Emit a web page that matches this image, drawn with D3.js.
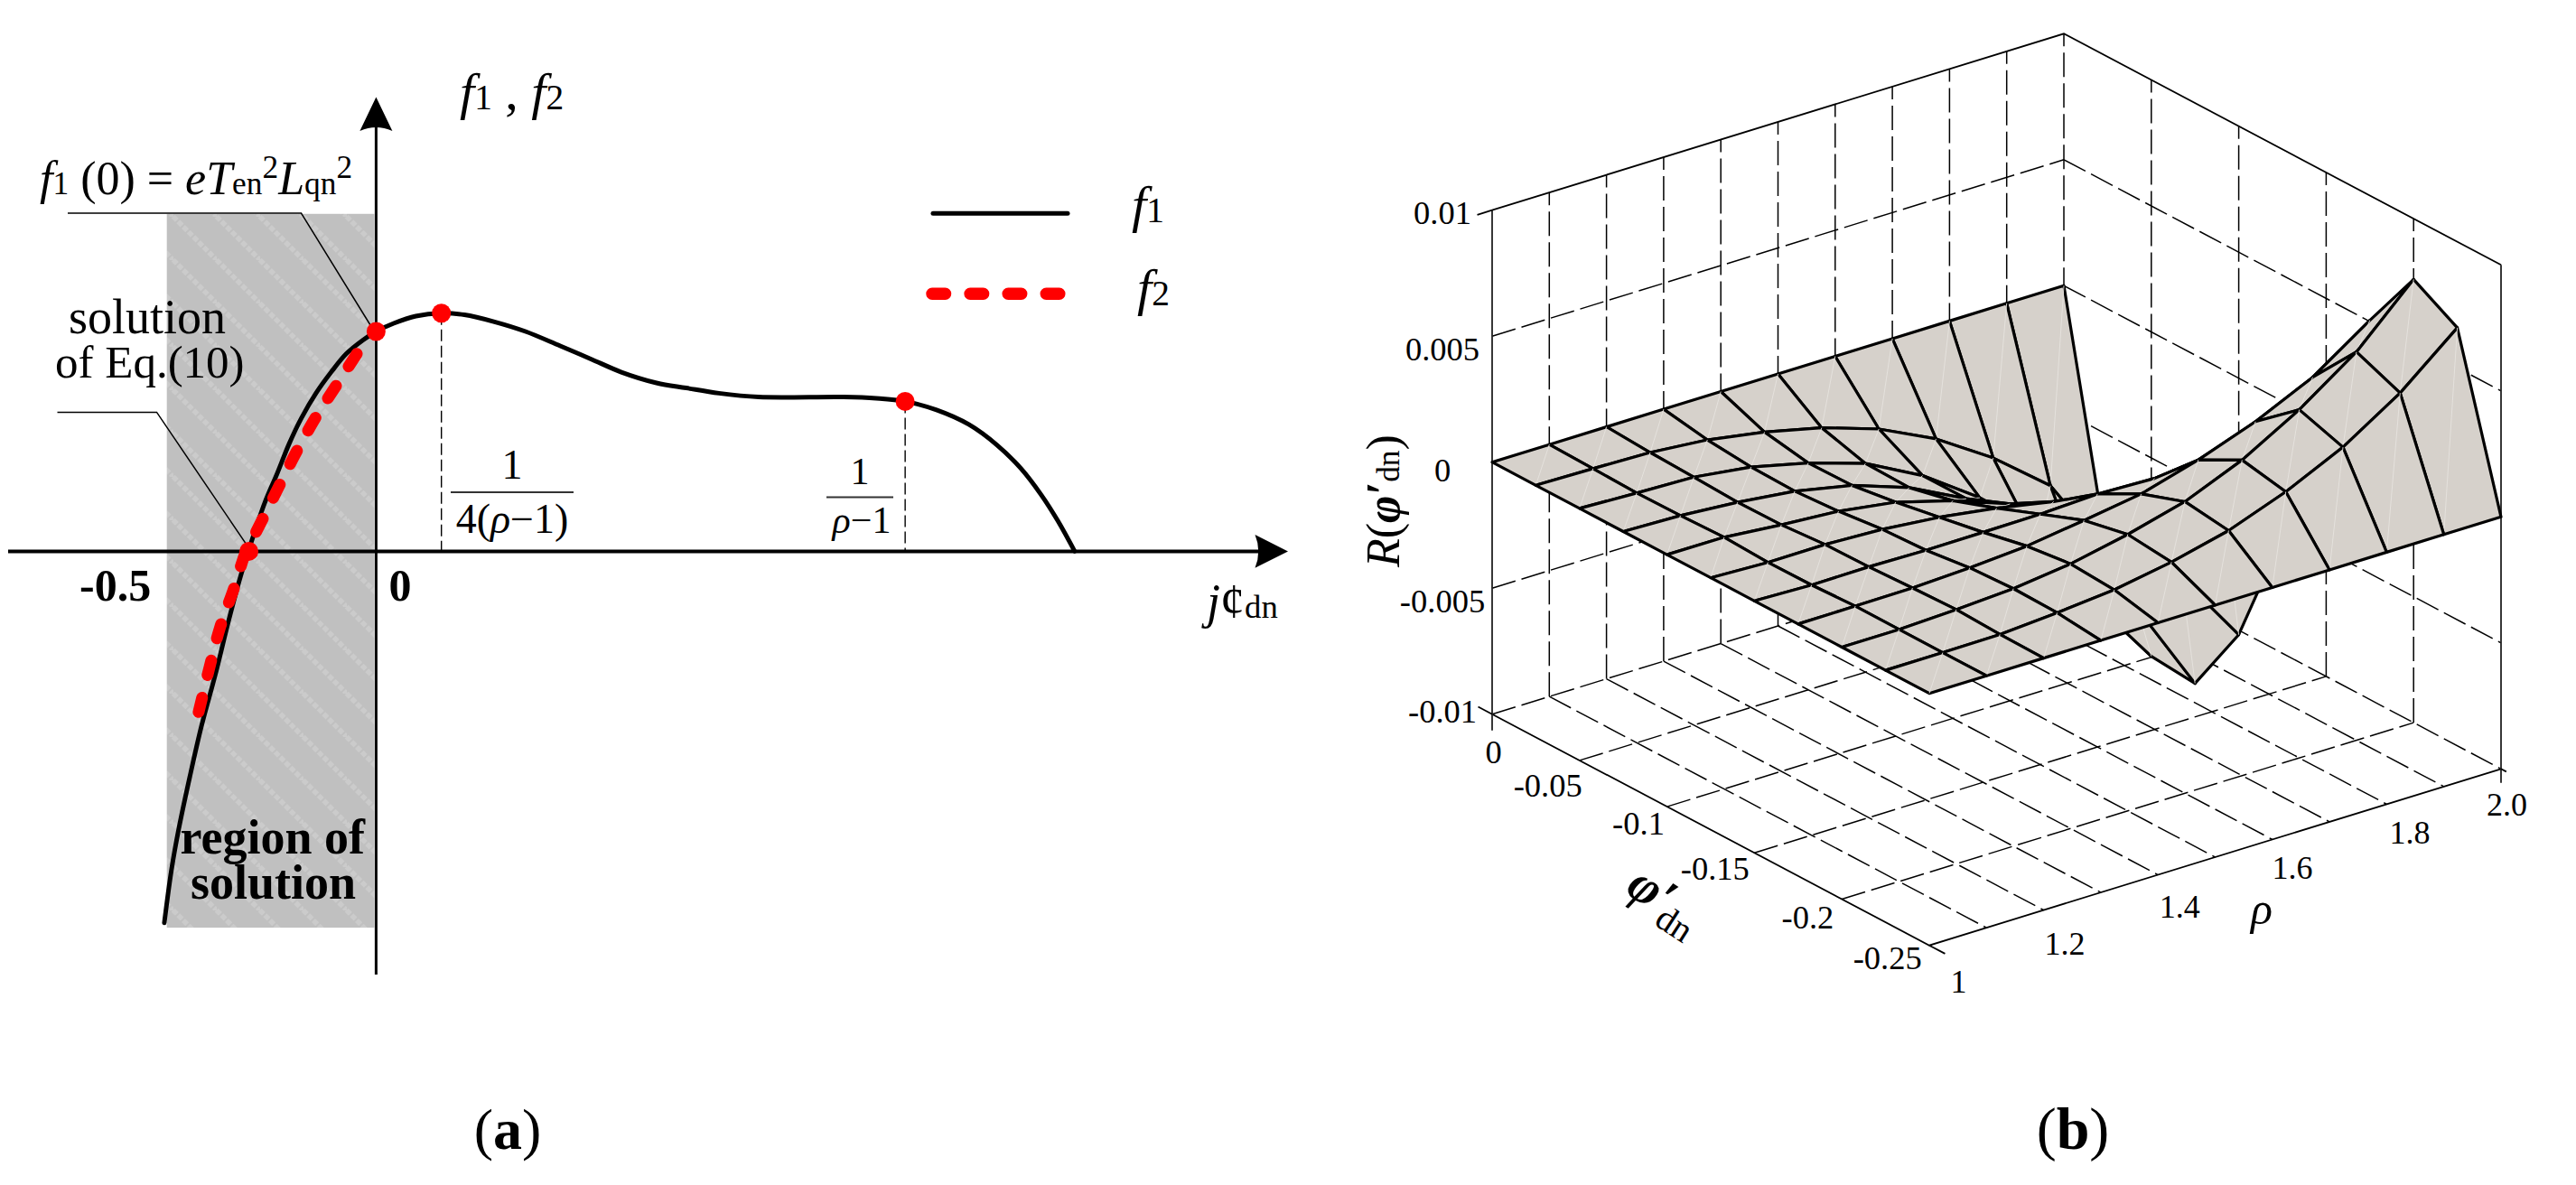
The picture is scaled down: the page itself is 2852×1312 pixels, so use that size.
<!DOCTYPE html>
<html>
<head>
<meta charset="utf-8">
<script src="https://cdn.jsdelivr.net/npm/d3@7"></script>
<style>
  html, body { margin: 0; padding: 0; background: #fff; }
  text { font-family: "Liberation Serif", serif; fill: #000; }
</style>
</head>
<body>
<svg id="chart" width="2852" height="1312"></svg>
<script>
// ---------- panel (a) values ----------
const f1X = [-0.506, -0.489, -0.471, -0.445, -0.417, -0.384, -0.352, -0.323, -0.298, -0.266, -0.237, -0.208, -0.179, -0.143, -0.107, -0.071, -0.032, 0,
  0.042, 0.095, 0.156, 0.211, 0.283, 0.357, 0.44, 0.513, 0.586, 0.67, 0.741, 0.819, 0.914, 1.117, 1.195, 1.264,
  1.339, 1.416, 1.483, 1.541, 1.589, 1.628, 1.669];
const f1Y = [-1.69, -1.45, -1.258, -1.025, -0.793, -0.56, -0.313, -0.108, 0.043, 0.221, 0.351, 0.488, 0.604, 0.721, 0.816, 0.899, 0.96, 1,
  1.037, 1.07, 1.083, 1.076, 1.044, 1, 0.934, 0.875, 0.815, 0.766, 0.743, 0.719, 0.702, 0.702, 0.696, 0.682,
  0.643, 0.577, 0.484, 0.376, 0.257, 0.141, 0];
const f2X = [-0.424, -0.396, -0.372, -0.341, -0.309, -0.287, -0.231, -0.19, -0.145, -0.096, -0.046];
const f2Y = [-0.731, -0.512, -0.341, -0.176, 0.009, 0.087, 0.3, 0.454, 0.607, 0.752, 0.899];
const markerX = [-0.304, 0, 0.156, 1.264];
const markerY = [0, 1, 1.083, 0.682];
const regionX = [-0.5, 0];
const regionY = [-1.712, 1.535];

// ---------- panel (b) values ----------
const rhoTicks = [1, 1.1, 1.2, 1.3, 1.4, 1.5, 1.6, 1.7, 1.8, 1.9, 2];
const rhoLabels = ["1", "", "1.2", "", "1.4", "", "1.6", "", "1.8", "", "2.0"];
const phiTicks = [0, -0.05, -0.1, -0.15, -0.2, -0.25];
const phiLabels = ["0", "-0.05", "-0.1", "-0.15", "-0.2", "-0.25"];
const rTicks = [-0.01, -0.005, 0, 0.005, 0.01];
const rLabels = ["-0.01", "-0.005", "0", "0.005", "0.01"];
const meshPhi = [0, -0.025, -0.05, -0.075, -0.1, -0.125, -0.15, -0.175, -0.2, -0.225, -0.25];
const meshRho = rhoTicks;
// one row per meshPhi value, one column per meshRho value
const meshR = [
  [0, 0, 0, 0, 0, 0, 0, 0, 0, 0, 0],
  [0, -0.00004, -0.0001, -0.0003, -0.00069, -0.00122, -0.00197, -0.00306, -0.00452, -0.00632, -0.00971],
  [0, -0.00009, -0.00016, -0.00046, -0.001, -0.00172, -0.0029, -0.00448, -0.00699, -0.01004, -0.01287],
  [0, -0.00007, -0.00024, -0.0005, -0.00097, -0.00176, -0.0029, -0.00448, -0.00681, -0.00939, -0.01303],
  [0, -0.00001, -0.00022, -0.00038, -0.00072, -0.00136, -0.00219, -0.00358, -0.0052, -0.00724, -0.01018],
  [0, -0.00009, -0.00008, -0.00018, -0.0004, -0.00074, -0.00118, -0.00197, -0.00305, -0.00412, -0.00538],
  [0, -0.00007, -0.00005, -0.00009, -0.00008, -0.00006, 0.00004, -0.00004, 0.00021, 0.00094, 0.00194],
  [0, 0.00001, 0.00003, 0.00013, 0.00029, 0.00061, 0.00096, 0.00161, 0.00243, 0.00349, 0.00505],
  [0, 0, 0.00009, 0.00022, 0.0005, 0.00097, 0.00157, 0.00252, 0.00382, 0.00541, 0.00759],
  [0, 0, 0.00002, 0.00018, 0.00039, 0.00079, 0.00134, 0.00218, 0.00325, 0.0047, 0.00659],
  [0, 0, 0, 0, 0, 0, 0, 0, 0, 0, 0]
];

const svg = d3.select("#chart");

// write a line of text out of [string, style] parts
function richText(parent, x, y, size, parts, anchor) {
  const t = parent.append("text").attr("x", x).attr("y", y)
    .attr("font-size", size).attr("text-anchor", anchor || "start");
  parts.forEach(p => {
    const s = t.append("tspan").text(p[0]);
    if (p[1] === "i") s.attr("font-style", "italic");
    if (p[1] === "iback") s.attr("font-style", "italic").attr("dy", size * 0.36);
    if (p[1] === "sub") s.attr("font-size", size * 0.68);
    if (p[1] === "sup") s.attr("font-size", size * 0.68).attr("dy", -size * 0.36);
    if (p[1] === "ib") s.attr("font-style", "italic").attr("font-weight", "bold");
    if (p[1] === "b") s.attr("font-weight", "bold");
  });
  return t;
}

// ---------- panel (a) ----------
const ax = d3.scaleLinear().domain([-0.5, 0]).range([184.7, 416.4]);
const ay = d3.scaleLinear().domain([0, 1]).range([610.4, 367]);
const a = svg.append("g");

const hatch = svg.append("defs").append("pattern").attr("id", "hatch")
  .attr("width", 48).attr("height", 48).attr("patternUnits", "userSpaceOnUse");
hatch.append("rect").attr("width", 48).attr("height", 48).attr("fill", "#c0c0c0");
hatch.append("path").attr("d", "M-6,-6L54,54M-6,42L6,54M42,-6L54,6")
  .attr("stroke", "#cbcbcb").attr("stroke-width", 5.5).attr("stroke-dasharray", "6 2");

a.append("rect")
  .attr("x", ax(regionX[0])).attr("y", ay(regionY[1]))
  .attr("width", ax(regionX[1]) - 2 - ax(regionX[0]))
  .attr("height", ay(regionY[0]) - ay(regionY[1]))
  .attr("fill", "url(#hatch)");

// axes
a.append("line").attr("x1", 9).attr("x2", 1400).attr("y1", ay(0)).attr("y2", ay(0))
  .attr("stroke", "#000").attr("stroke-width", 4);
a.append("line").attr("x1", ax(0)).attr("x2", ax(0)).attr("y1", 135).attr("y2", 1079)
  .attr("stroke", "#000").attr("stroke-width", 3);
a.append("path").attr("d", `M${ax(0)},107.5L${ax(0) + 18},145Q${ax(0)},137 ${ax(0) - 18},145Z`);
a.append("path").attr("d", `M1426,${ay(0)}L1389.5,${ay(0) - 18.4}Q1397,${ay(0)} 1389.5,${ay(0) + 18.4}Z`);

// guides and leader lines
[markerX[2], markerX[3]].forEach((v, i) => {
  a.append("line").attr("x1", ax(v)).attr("x2", ax(v))
    .attr("y1", ay(markerY[i + 2])).attr("y2", ay(0))
    .attr("stroke", "#000").attr("stroke-width", 1.4).attr("stroke-dasharray", "13 5");
});
a.append("polyline").attr("points", `75,236 333.5,236 ${ax(0) - 2},${ay(1)}`)
  .attr("fill", "none").attr("stroke", "#000").attr("stroke-width", 1.5);
a.append("polyline").attr("points", `63.5,456.4 173.5,456.4 ${ax(markerX[0]) - 3},${ay(0) - 8}`)
  .attr("fill", "none").attr("stroke", "#000").attr("stroke-width", 1.5);

// curves
const curveLine = d3.line().x(d => ax(d[0])).y(d => ay(d[1])).curve(d3.curveCatmullRom);
a.append("path").attr("d", curveLine(d3.zip(f1X, f1Y)))
  .attr("fill", "none").attr("stroke", "#000").attr("stroke-width", 5).attr("stroke-linecap", "round");
a.append("path").attr("d", curveLine(d3.zip(f2X, f2Y)))
  .attr("fill", "none").attr("stroke", "#ff0000").attr("stroke-width", 13)
  .attr("stroke-linecap", "round").attr("stroke-dasharray", "16.5 25.5");
a.selectAll("circle.marker").data(d3.zip(markerX, markerY)).enter().append("circle")
  .attr("class", "marker").attr("cx", d => ax(d[0])).attr("cy", d => ay(d[1])).attr("r", 10.5)
  .attr("fill", "#ff0000");

// legend
a.append("line").attr("x1", 1033).attr("x2", 1182).attr("y1", 236.3).attr("y2", 236.3)
  .attr("stroke", "#000").attr("stroke-width", 5).attr("stroke-linecap", "round");
a.append("line").attr("x1", 1032).attr("x2", 1174).attr("y1", 325.3).attr("y2", 325.3)
  .attr("stroke", "#ff0000").attr("stroke-width", 13.5).attr("stroke-linecap", "round")
  .attr("stroke-dasharray", "14.5 27.6");
richText(a, 1253, 245.7, 58, [["f", "i"], ["1", "sub"]]);
richText(a, 1259, 337.6, 58, [["f", "i"], ["2", "sub"]]);

// labels
richText(a, 509, 121.4, 58, [["f", "i"], ["1", "sub"], [" , "], ["f", "i"], ["2", "sub"]]);
richText(a, 44, 215.4, 52, [["f", "i"], ["1", "sub"], [" (0) = "], ["eT", "i"], ["en", "sub"], ["2", "sup"],
  ["L", "iback"], ["qn", "sub"], ["2", "sup"]]);
a.append("text").attr("x", 76).attr("y", 369).attr("font-size", 54).text("solution");
a.append("text").attr("x", 61).attr("y", 418).attr("font-size", 51).text("of Eq.(10)");
a.append("text").attr("x", 88).attr("y", 664.6).attr("font-size", 50).attr("font-weight", "bold").text("-0.5");
a.append("text").attr("x", 430.4).attr("y", 664.6).attr("font-size", 50).attr("font-weight", "bold").text("0");
a.append("text").attr("x", 301.7).attr("y", 945).attr("font-size", 54).attr("font-weight", "bold")
  .attr("text-anchor", "middle").text("region of");
a.append("text").attr("x", 302.5).attr("y", 995).attr("font-size", 54).attr("font-weight", "bold")
  .attr("text-anchor", "middle").text("solution");
richText(a, 1336, 684, 54, [["j", "i"], ["¢"], ["dn", "sub"]]);

// fractions
a.append("text").attr("x", 567).attr("y", 529.6).attr("font-size", 46).attr("text-anchor", "middle").text("1");
a.append("line").attr("x1", 499).attr("x2", 635).attr("y1", 545).attr("y2", 545).attr("stroke", "#333").attr("stroke-width", 2);
richText(a, 567, 590, 46, [["4("], ["ρ", "i"], ["−1)"]], "middle");
a.append("text").attr("x", 952).attr("y", 536).attr("font-size", 42).attr("text-anchor", "middle").text("1");
a.append("line").attr("x1", 915).attr("x2", 989).attr("y1", 550.6).attr("y2", 550.6).attr("stroke", "#333").attr("stroke-width", 2);
richText(a, 954, 590, 42, [["ρ", "i"], ["−1"]], "middle");

richText(svg, 562, 1271.7, 64, [["("], ["a", "b"], [")"]], "middle");
richText(svg, 2295, 1271.7, 66, [["("], ["b", "b"], [")"]], "middle");

// ---------- panel (b): oblique projection built from linear scales ----------
const originX = 1652, originY = 790.7;
const phiToX = d3.scaleLinear().domain([0, -0.25]).range([0, 484]);
const phiToY = d3.scaleLinear().domain([0, -0.25]).range([0, 256]);
const rhoToX = d3.scaleLinear().domain([1, 2]).range([0, 633]);
const rhoToY = d3.scaleLinear().domain([1, 2]).range([0, -195.4]);
const rToY = d3.scaleLinear().domain([-0.01, 0.01]).range([0, -558]);

const project = (phi, rho, r) => [
  originX + phiToX(phi) + rhoToX(rho),
  originY + phiToY(phi) + rhoToY(rho) + rToY(r)
];
const pts = list => list.map(p => project(p[0], p[1], p[2]).join(",")).join(" ");

const b = svg.append("g");
const rMin = -0.01, rMax = 0.01, phiEnd = -0.25, rhoEnd = 2;

function gridLine(list, solid) {
  const l = b.append("polyline").attr("points", pts(list)).attr("fill", "none")
    .attr("stroke", "#000").attr("stroke-width", solid ? 1.8 : 1.5);
  if (!solid) l.attr("stroke-dasharray", "27 7");
  return l;
}

// floor
rhoTicks.slice(1, -1).forEach(v => gridLine([[0, v, rMin], [phiEnd, v, rMin]]));
phiTicks.slice(1, -1).forEach(v => gridLine([[v, 1, rMin], [v, rhoEnd, rMin]]));
gridLine([[0, rhoEnd, rMin], [phiEnd, rhoEnd, rMin]]);
gridLine([[0, 1, rMin], [0, rhoEnd, rMin]]);
// back walls
rhoTicks.slice(1).forEach(v => gridLine([[0, v, rMin], [0, v, rMax]]));
phiTicks.slice(1, -1).forEach(v => gridLine([[v, rhoEnd, rMin], [v, rhoEnd, rMax]]));
rTicks.slice(1, -1).forEach(v => {
  gridLine([[0, 1, v], [0, rhoEnd, v]]);
  gridLine([[0, rhoEnd, v], [phiEnd, rhoEnd, v]]);
});
// frame
gridLine([[0, 1, rMax], [0, rhoEnd, rMax], [phiEnd, rhoEnd, rMax]], true);
gridLine([[0, 1, rMin], [phiEnd, 1, rMin], [phiEnd, rhoEnd, rMin]], true);
gridLine([[0, 1, rMin - 0.00065], [0, 1, rMax]], true).attr("stroke", "#222");
gridLine([[phiEnd, rhoEnd, rMin - 0.00055], [phiEnd, rhoEnd, rMax]], true).attr("stroke", "#222");
// small tick stubs at the frame corners
gridLine([[0, 0.974, rMax], [0, 1, rMax]], true);
gridLine([[0.008, 1, rMin], [0, 1, rMin]], true);
gridLine([[phiEnd, 1, rMin], [phiEnd - 0.009, 1, rMin]], true);
gridLine([[phiEnd, rhoEnd, rMin], [phiEnd - 0.003, rhoEnd, rMin]], true);

// surface, cells painted from the back corner to the front corner
const cells = [];
for (let i = 0; i < meshPhi.length - 1; i++) {
  for (let j = 0; j < meshRho.length - 1; j++) cells.push([i, j]);
}
cells.sort((p, q) => (p[0] - p[1]) - (q[0] - q[1]));
const node = (i, j) => [meshPhi[i], meshRho[j], meshR[i][j]];
const surface = b.append("g");
cells.forEach(c => {
  const i = c[0], j = c[1];
  surface.append("polygon")
    .attr("points", pts([node(i, j), node(i + 1, j), node(i + 1, j + 1), node(i, j + 1)]))
    .attr("fill", "#d6d1cb").attr("stroke", "#000").attr("stroke-width", 3.2)
    .attr("stroke-linejoin", "round");
  surface.append("polyline")
    .attr("points", pts([node(i + 1, j), node(i, j + 1)]))
    .attr("fill", "none").attr("stroke", "#e6e3df").attr("stroke-width", 0.9);
});

// tick labels
const rLabelX = [1597, 1597, 1597, 1597, 1597];
const rLabelBase = [800, 678.3, 532.7, 399.3, 248.3];
rLabels.forEach((t, i) => b.append("text").attr("x", rLabelX[i]).attr("y", rLabelBase[i])
  .attr("font-size", 36.5).attr("text-anchor", "middle").text(t));
const phiLabelX = [1653.5, 1713.7, 1814, 1898.8, 2001.4, 2089.7];
const phiLabelBase = [845, 881.7, 924, 974, 1028.3, 1073.3];
phiLabels.forEach((t, i) => b.append("text").attr("x", phiLabelX[i]).attr("y", phiLabelBase[i])
  .attr("font-size", 36.5).attr("text-anchor", "middle").text(t));
const rhoLabelX = { "1": 2168.5, "1.2": 2286, "1.4": 2413.3, "1.6": 2538, "1.8": 2668, "2.0": 2775.4 };
const rhoLabelBase = { "1": 1099, "1.2": 1056.8, "1.4": 1015.9, "1.6": 973.4, "1.8": 933.6, "2.0": 902.6 };
rhoLabels.filter(t => t).forEach(t => b.append("text").attr("x", rhoLabelX[t]).attr("y", rhoLabelBase[t])
  .attr("font-size", 36).attr("text-anchor", "middle").text(t));

// axis titles
richText(b, 2492, 1023, 50, [["ρ", "i"]]);
const phiTitle = b.append("g").attr("transform", "translate(1798,988) rotate(33)");
richText(phiTitle, 0, 0, 58, [["φ", "ib"], ["′", "ib"]]);
richText(phiTitle, 46, 12, 40, [["dn"]]);
const rTitle = b.append("g").attr("transform", "translate(1549,628) rotate(-90)");
richText(rTitle, 0, 0, 52, [["R", "i"], ["("], ["φ", "ib"], ["′", "ib"], ["dn", "sub"], [")"]]);
</script>
</body>
</html>
